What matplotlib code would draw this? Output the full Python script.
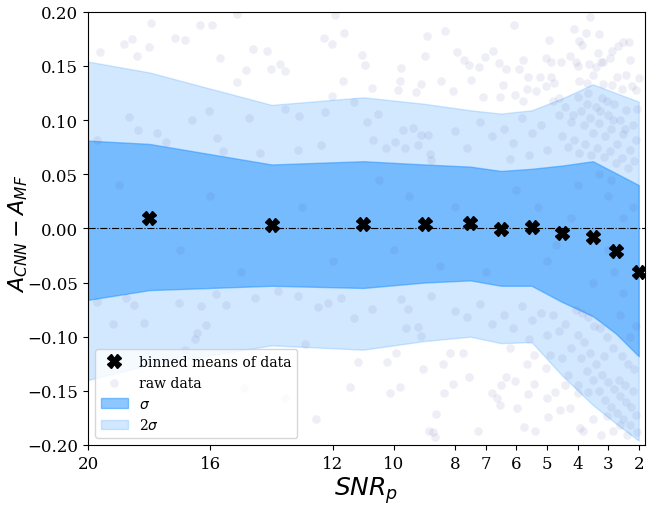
import numpy as np
import matplotlib
matplotlib.use('Agg')
import matplotlib.pyplot as plt

plt.rcParams['font.family'] = 'serif'

# bin centres (SNR_p) and binned statistics
snr_bins = [18, 14, 11, 9, 7.5, 6.5, 5.5, 4.5, 3.5, 2.75, 2.0]
bin_means = [0.010, 0.003, 0.004, 0.004, 0.005, -0.001, 0.001, -0.004, -0.008, -0.021, -0.040]

# band edges (include the left edge of the range)
snr_band = [20, 18, 14, 11, 9, 7.5, 6.5, 5.5, 4.5, 3.5, 2.75, 2.0]
up2 = [0.154, 0.144, 0.114, 0.121, 0.115, 0.109, 0.106, 0.109, 0.120, 0.133, 0.125, 0.117]
up1 = [0.081, 0.078, 0.059, 0.062, 0.059, 0.057, 0.053, 0.055, 0.058, 0.062, 0.051, 0.040]
lo1 = [-0.066, -0.057, -0.053, -0.055, -0.050, -0.048, -0.053, -0.053, -0.068, -0.081, -0.097, -0.118]
lo2 = [-0.140, -0.126, -0.108, -0.112, -0.104, -0.100, -0.106, -0.105, -0.136, -0.163, -0.180, -0.196]

# raw data points (approximate)
raw_pts = [
    # upper outliers, left half
    (17.94, 0.190), (18.82, 0.170), (18.56, 0.175), (19.6, 0.163), (18.4, 0.159), (18.0, 0.167),
    (17.16, 0.176), (16.83, 0.174), (16.34, 0.188), (15.95, 0.188), (15.13, 0.198), (15.69, 0.157),
    (14.6, 0.166), (14.15, 0.164), (14.84, 0.146), (14.02, 0.147), (13.73, 0.152), (13.56, 0.145),
    (15.13, 0.135), (11.93, 0.197), (11.63, 0.180), (12.29, 0.176), (12.03, 0.170), (11.05, 0.160),
    (10.95, 0.151), (11.67, 0.136), (10.72, 0.130), (9.77, 0.148), (9.8, 0.136), (9.87, 0.128),
    (9.12, 0.133), (9.28, 0.126), (8.99, 0.159), (8.92, 0.178), (12.03, 0.122),
    # upper 2 sigma band, left half
    (16.05, 0.108), (18.66, 0.103), (18.37, 0.091), (17.75, 0.088), (19.7, 0.082), (17.45, 0.080),
    (16.6, 0.100), (15.78, 0.083), (14.74, 0.102), (13.56, 0.110), (13.1, 0.104), (12.25, 0.107),
    (11.31, 0.117), (10.88, 0.098), (10.52, 0.106), (10.69, 0.082), (12.39, 0.077), (13.14, 0.072),
    (14.38, 0.070), (15.59, 0.071), (9.71, 0.091), (9.38, 0.093), (9.12, 0.086), (8.89, 0.086),
    (9.64, 0.074), (9.22, 0.077), (8.82, 0.069), (8.79, 0.063), (9.97, 0.080), (10.26, 0.074),
    # lower region, left half
    (19.7, -0.068), (18.76, -0.064), (18.5, -0.071), (18.17, -0.087), (19.18, -0.088), (17.03, -0.069),
    (16.3, -0.072), (16.14, -0.089), (16.44, -0.097), (15.49, -0.071), (15.82, -0.061), (14.54, -0.064),
    (13.79, -0.058), (13.14, -0.062), (12.9, -0.107), (12.48, -0.073), (12.16, -0.069), (11.73, -0.064),
    (11.31, -0.083), (10.72, -0.074), (11.18, -0.123), (10.23, -0.123), (9.93, -0.115), (10.13, -0.152),
    (9.8, -0.146), (9.05, -0.130), (8.86, -0.187), (8.66, -0.193), (12.55, -0.176), (13.56, -0.157),
    (14.9, -0.147), (16.83, -0.112), (16.5, -0.102), (9.61, -0.092), (9.22, -0.091), (9.12, -0.099),
    (9.77, -0.065), (9.54, -0.074), (8.79, -0.062), (11.44, -0.146),
    # upper outliers, right half
    (6.08, 0.188), (3.59, 0.195), (8.33, 0.182), (4.93, 0.174), (4.12, 0.184), (3.73, 0.180),
    (3.95, 0.173), (3.86, 0.169), (3.3, 0.179), (2.52, 0.172), (2.32, 0.172), (2.68, 0.168),
    (2.88, 0.164), (3.33, 0.162), (7.94, 0.163), (7.71, 0.155), (6.76, 0.164), (7.03, 0.158),
    (7.55, 0.151), (7.22, 0.149), (6.57, 0.153), (6.34, 0.147), (5.78, 0.155), (5.92, 0.147),
    (5.03, 0.157), (4.87, 0.154), (4.54, 0.154), (4.25, 0.159), (4.05, 0.154), (3.98, 0.150),
    (3.62, 0.152), (3.24, 0.154), (3.17, 0.154), (2.94, 0.157), (2.29, 0.155), (3.5, 0.142),
    (2.71, 0.140), (2.42, 0.142), (2.0, 0.139), (3.4, 0.149), (8.46, 0.136), (7.48, 0.137),
    (6.44, 0.132), (6.54, 0.121), (7.09, 0.121), (6.05, 0.123), (5.62, 0.140), (5.23, 0.140),
    (4.87, 0.140), (5.65, 0.129), (5.36, 0.127), (5.03, 0.131), (4.77, 0.134), (4.61, 0.120),
    (3.95, 0.136), (3.69, 0.134), (3.17, 0.133), (2.88, 0.132), (2.55, 0.129), (2.22, 0.131),
    (2.09, 0.128), (5.78, 0.118), (8.07, 0.127),
    # lower outliers, right half
    (8.4, -0.125), (8.07, -0.144), (7.55, -0.137), (8.17, -0.115), (7.75, -0.115), (8.63, -0.171),
    (7.25, -0.187), (6.8, -0.152), (6.5, -0.145), (6.34, -0.137), (6.05, -0.141), (5.98, -0.166),
    (5.62, -0.153), (5.42, -0.144), (5.65, -0.125), (5.42, -0.117), (5.03, -0.129), (4.97, -0.174),
    (5.75, -0.183), (5.39, -0.187), (4.74, -0.151), (4.41, -0.145), (4.25, -0.166), (4.58, -0.168),
    (3.99, -0.152), (3.66, -0.151), (3.82, -0.187), (3.5, -0.176), (3.04, -0.173), (2.84, -0.187),
    (2.61, -0.182), (2.39, -0.191), (3.24, -0.191), (3.92, -0.184), (6.63, -0.157), (6.54, -0.163),
    (5.0, -0.157), (4.9, -0.117), (8.73, -0.188), (8.37, -0.152),
    # dense cloud, upper side at low SNR
    (4.8, 0.118), (4.6, 0.105), (4.4, 0.112), (4.2, 0.098), (4.0, 0.121), (3.9, 0.108), (3.8, 0.095),
    (3.7, 0.115), (3.6, 0.102), (3.5, 0.088), (3.4, 0.112), (3.3, 0.097), (3.2, 0.120), (3.1, 0.085),
    (3.0, 0.105), (2.9, 0.092), (2.8, 0.115), (2.7, 0.078), (2.6, 0.100), (2.5, 0.087), (2.4, 0.109),
    (2.3, 0.072), (2.2, 0.095), (2.1, 0.082), (2.05, 0.110), (4.5, 0.085), (4.3, 0.075), (4.1, 0.082),
    (3.95, 0.070), (3.75, 0.078), (3.55, 0.068), (3.35, 0.074), (3.15, 0.066), (2.95, 0.071),
    (2.75, 0.060), (2.55, 0.065), (2.35, 0.056), (2.15, 0.062), (5.2, 0.095), (5.5, 0.088),
    (5.8, 0.102), (6.1, 0.079), (6.4, 0.092), (6.8, 0.085), (7.2, 0.098), (7.6, 0.074), (8.0, 0.090),
    (5.0, 0.072), (5.6, 0.068), (6.2, 0.064), (3.65, 0.125), (3.25, 0.108), (2.85, 0.100),
    (2.45, 0.092), (4.15, 0.105), (3.05, 0.118),
    # dense cloud, lower side at low SNR
    (4.8, -0.080), (4.6, -0.095), (4.4, -0.088), (4.2, -0.110), (4.0, -0.098), (3.9, -0.120),
    (3.8, -0.105), (3.7, -0.132), (3.6, -0.115), (3.5, -0.140), (3.4, -0.125), (3.3, -0.150),
    (3.2, -0.135), (3.1, -0.158), (3.0, -0.142), (2.9, -0.165), (2.8, -0.148), (2.7, -0.170),
    (2.6, -0.155), (2.5, -0.176), (2.4, -0.160), (2.3, -0.182), (2.2, -0.150), (2.1, -0.172),
    (2.05, -0.188), (2.15, -0.130), (2.35, -0.125), (2.55, -0.118), (2.85, -0.110), (3.05, -0.100),
    (3.25, -0.092), (3.45, -0.090), (3.65, -0.082), (3.85, -0.078), (4.05, -0.075), (5.2, -0.078),
    (5.5, -0.085), (5.8, -0.072), (6.1, -0.092), (6.4, -0.080), (6.8, -0.088), (7.2, -0.070),
    (7.6, -0.082), (8.0, -0.076), (5.0, -0.098), (5.6, -0.102), (6.2, -0.110), (4.5, -0.120),
    (4.3, -0.135), (4.0, -0.145), (2.25, -0.165), (2.65, -0.140), (3.15, -0.118), (2.45, -0.145),
    # inside the 1 sigma band
    (19.0, 0.040), (17.0, -0.020), (16.0, 0.030), (15.0, -0.040), (13.0, 0.020), (12.0, -0.030),
    (10.5, 0.045), (10.0, -0.020), (9.5, 0.030), (8.5, -0.035), (8.0, 0.020), (7.0, -0.040),
    (6.0, 0.035), (5.0, -0.030), (4.0, 0.040), (3.5, -0.050), (3.0, 0.030), (2.5, -0.060),
    (2.2, 0.020), (2.5, 0.010), (3.0, -0.020), (3.3, 0.050), (2.8, -0.040), (4.2, 0.010),
    (4.7, -0.015), (5.3, 0.020), (2.1, -0.090), (2.3, -0.100), (2.6, -0.080), (2.9, 0.045),
]
raw_snr = [p[0] for p in raw_pts]
raw_delta = [p[1] for p in raw_pts]

fig = plt.figure(figsize=(6.52, 5.10), dpi=100)
ax = fig.add_axes([0.135, 0.1255, 0.854, 0.8495])

ax.fill_between(snr_band, lo2, up2, color='dodgerblue', alpha=0.2, label=r'2$\sigma$')
ax.fill_between(snr_band, lo1, up1, color='dodgerblue', alpha=0.5, label=r'$\sigma$')
ax.scatter(raw_snr, raw_delta, s=38, color=(0.3, 0.3, 0.65), alpha=0.09, lw=0, label='raw data')
ax.axhline(0, color='k', ls='-.', lw=0.8)
ax.plot(snr_bins, bin_means, 'X', color='k', ms=10, ls='none', label='binned means of data')

ax.set_xlim(20, 1.8)
ax.set_ylim(-0.2, 0.2)
ax.set_xticks([20, 16, 12, 10, 8, 7, 6, 5, 4, 3, 2])
ax.set_xticklabels(['20', '16', '12', '10', '8', '7', '6', '5', '4', '3', '2'])
ax.set_yticks(np.arange(-0.2, 0.201, 0.05))
ax.tick_params(labelsize=12)
ax.set_xlabel(r'$SNR_p$', fontsize=18, labelpad=2)
ax.set_ylabel(r'$A_{CNN} - A_{MF}$', fontsize=16)
ax.yaxis.set_label_coords(-0.104, 0.49)

handles, labels = ax.get_legend_handles_labels()
order = [3, 2, 1, 0]
ax.legend([handles[i] for i in order], [labels[i] for i in order],
          loc='lower left', fontsize=10)

fig.savefig('out.png', dpi=100)
